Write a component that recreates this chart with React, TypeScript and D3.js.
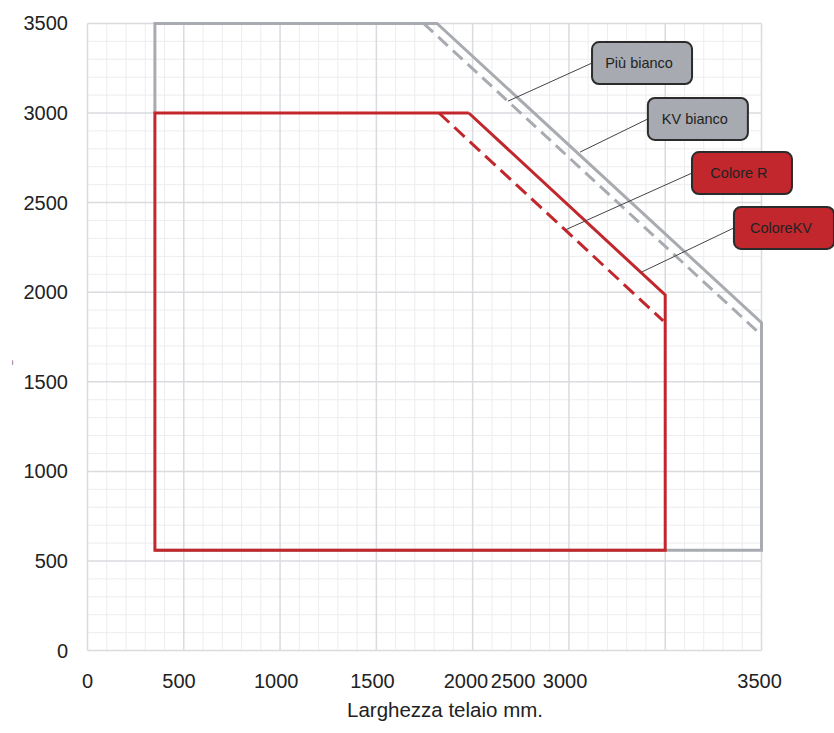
import React from "react";
import * as d3 from "d3";

// ---- data ----
const xTickValues = [0, 475, 980, 1480, 1965, 2210, 2480, 3490];
const xTickLabels = ["0", "500", "1000", "1500", "2000", "2500", "3000", "3500"];
const yTickValues = [0, 500, 1000, 1500, 2000, 2500, 3000, 3500];
const yTickLabels = ["0", "500", "1000", "1500", "2000", "2500", "3000", "3500"];

const grayOutline: [number, number][] = [
  [350, 3000], [350, 3500], [1815, 3500], [3500, 1830], [3500, 560], [350, 560],
];
const grayDashed: [number, number][] = [[1745, 3500], [3490, 1770]];
const redOutline: [number, number][] = [
  [1980, 3000], [350, 3000], [350, 560], [3000, 560], [3000, 1985], [1980, 3000],
];
const redDashed: [number, number][] = [[1825, 3000], [2990, 1840]];

const annLabels = ["Più bianco", "KV bianco", "Colore R", "ColoreKV"];
const annBoxX = [2620, 2910, 3139, 3357];
const annBoxY = [3396, 3084, 2782, 2476];
const annTargetX = [2183, 2558, 2480, 2879];
const annTargetY = [3066, 2782, 2347, 2113];
const annKind = ["gray", "gray", "red", "red"];

export default function App() {
  const W = 834, H = 733;
  const x = d3.scaleLinear().domain([0, 3500]).range([87.5, 761.5]);
  const y = d3.scaleLinear().domain([0, 3500]).range([650.6, 23.4]);
  const line = d3.line<[number, number]>().x(d => x(d[0])).y(d => y(d[1]));

  const minor = d3.range(0, 3501, 100).filter(v => v % 500 !== 0);
  const major = d3.range(0, 3501, 500);

  const GRAY = "#a8acb1";
  const RED = "#c1272d";
  const font = "'Liberation Sans', Arial, Helvetica, sans-serif";
  const boxW = 100, boxH = 42;

  return (
    <svg width={W} height={H} style={{ position: "absolute", left: 0, top: 0, background: "#fff" }} fontFamily={font}>
      {/* grid */}
      <g>
        {minor.map(v => (
          <line key={"mx" + v} x1={x(v)} x2={x(v)} y1={y(0)} y2={y(3500)} stroke="#ededf0" strokeWidth={1} />
        ))}
        {minor.map(v => (
          <line key={"my" + v} x1={x(0)} x2={x(3500)} y1={y(v)} y2={y(v)} stroke="#ededf0" strokeWidth={1} />
        ))}
        {major.map(v => (
          <line key={"Mx" + v} x1={x(v)} x2={x(v)} y1={y(0)} y2={y(3500)} stroke="#dadbdf" strokeWidth={1.5} />
        ))}
        {major.map(v => (
          <line key={"My" + v} x1={x(0)} x2={x(3500)} y1={y(v)} y2={y(v)} stroke="#dadbdf" strokeWidth={1.5} />
        ))}
      </g>

      {/* gray series */}
      <path d={line(grayOutline) || ""} fill="none" stroke={GRAY} strokeWidth={3} strokeLinejoin="miter" />
      <path d={line(grayDashed) || ""} fill="none" stroke={GRAY} strokeWidth={3} strokeDasharray="13,7" />
      {/* red series */}
      <path d={line(redOutline) || ""} fill="none" stroke={RED} strokeWidth={3} strokeLinejoin="miter" />
      <path d={line(redDashed) || ""} fill="none" stroke={RED} strokeWidth={3} strokeDasharray="14,7" />

      {/* annotations */}
      {annLabels.map((lab, i) => {
        const bx = x(annBoxX[i]);
        const by = y(annBoxY[i]);
        return (
          <g key={lab}>
            <line x1={bx} y1={by + boxH / 2} x2={x(annTargetX[i])} y2={y(annTargetY[i])} stroke="#444" strokeWidth={1} />
            <rect x={bx} y={by} width={boxW} height={boxH} rx={7} ry={7}
              fill={annKind[i] === "gray" ? "#a7abb1" : "#c1272d"} stroke="#2b2b2b" strokeWidth={2} />
            <text x={bx + boxW / 2 - 3} y={by + boxH / 2 + 5} textAnchor="middle" fontSize={14.5} fill="#222">{lab}</text>
          </g>
        );
      })}

      {/* y axis labels */}
      {yTickValues.map((v, i) => (
        <text key={"yt" + v} x={68} y={y(v) + 7} textAnchor="end" fontSize={20} fill="#222">{yTickLabels[i]}</text>
      ))}
      {/* x axis labels */}
      {xTickValues.map((v, i) => (
        <text key={"xt" + i} x={x(v)} y={688} textAnchor="middle" fontSize={20} fill="#222">{xTickLabels[i]}</text>
      ))}
      <text x={445} y={717} textAnchor="middle" fontSize={20.5} fill="#222">Larghezza telaio mm.</text>
      <text x={12.5} y={365} textAnchor="middle" fontSize={7} fill="#444">i</text>
    </svg>
  );
}
